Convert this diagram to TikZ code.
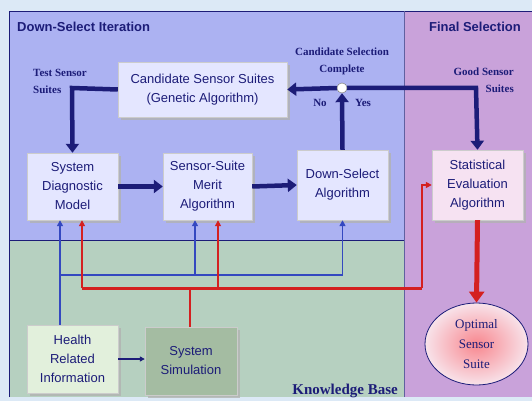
\documentclass[tikz,border=0pt]{standalone}
\usepackage{fontspec}
\setmainfont{Liberation Serif}
\setsansfont{Liberation Sans}
\usetikzlibrary{arrows.meta,shadows,shapes.geometric,calc}
\definecolor{bgout}{HTML}{DCE9F6}
\definecolor{bluereg}{HTML}{ACB2F2}
\definecolor{greenreg}{HTML}{B6D0C0}
\definecolor{purpreg}{HTML}{C9A2DA}
\definecolor{navy}{HTML}{1C1C78}
\definecolor{boxblue}{HTML}{E4E6FF}
\definecolor{boxpink}{HTML}{F6E2F2}
\definecolor{boxgreen}{HTML}{E2F0DC}
\definecolor{simgreen}{HTML}{A4BCA2}
\definecolor{thinblue}{HTML}{3448C0}
\definecolor{redl}{HTML}{D42020}
\definecolor{ellpink}{HTML}{F4D0DC}
\tikzset{
  box/.style={draw=gray!40, fill=boxblue, font=\sffamily\fontsize{13}{19}\selectfont,
    text=navy, align=center, inner sep=0pt,
    drop shadow={shadow xshift=3pt, shadow yshift=-3pt, fill=gray!60, opacity=0.8}},
  lbl/.style={font=\rmfamily\bfseries\fontsize{11}{17}\selectfont, text=navy, inner sep=0pt},
  thickarr/.style={draw=navy, line width=4.5pt, -{Triangle[length=9pt,width=13pt]}},
  bluearr/.style={draw=thinblue, line width=1.5pt, -{Triangle[length=6pt,width=6pt]}},
  blueline/.style={draw=thinblue, line width=1.5pt},
  redarr/.style={draw=redl, line width=1.5pt, -{Triangle[length=6pt,width=6pt]}},
  redline/.style={draw=redl, line width=3pt},
}
\begin{document}
\begin{tikzpicture}[x=1pt,y=-1pt]
\useasboundingbox (0,0) rectangle (532,401);
\fill[bgout] (0,0) rectangle (532,401);
% regions
\fill[bluereg] (9,11) rectangle (404,240);
\fill[greenreg] (9,240) rectangle (404,397);
\fill[purpreg] (404,11) rectangle (532,397);
\draw[navy, line width=0.8pt] (9,397) -- (9,11) -- (532,11);
\draw[navy, line width=0.8pt] (9,240) -- (404,240);
\draw[navy!70, line width=0.8pt] (404,11) -- (404,397);
% region titles
\node[font=\sffamily\bfseries\fontsize{13}{15}\selectfont, text=navy, anchor=west, inner sep=0pt] (t1) at (17,27) {Down-Select Iteration};
\node[font=\sffamily\bfseries\fontsize{13}{15}\selectfont, text=navy, anchor=east, inner sep=0pt] (t2) at (521,27) {Final Selection};
\node[font=\rmfamily\bfseries\fontsize{15}{17}\selectfont, text=navy, anchor=east, inner sep=0pt] (t3) at (398,391) {Knowledge Base};
% nodes
\node[box, minimum width=169pt, minimum height=55pt] (cand) at (202.5,89.5) {Candidate Sensor Suites\\(Genetic Algorithm)};
\node[box, minimum width=91pt, minimum height=67pt] (diag) at (72.5,186.5) {System\\Diagnostic\\Model};
\node[box, minimum width=89pt, minimum height=67pt] (merit) at (207.5,186.5) {Sensor-Suite\\Merit\\Algorithm};
\node[box, minimum width=91pt, minimum height=70pt] (down) at (342.5,185) {Down-Select\\Algorithm};
\node[box, fill=boxpink, minimum width=91pt, minimum height=70pt] (stat) at (477.5,185) {Statistical\\Evaluation\\Algorithm};
\node[box, fill=boxgreen, minimum width=91pt, minimum height=68pt] (health) at (72.5,359) {Health\\Related\\Information};
\node[box, fill=simgreen, minimum width=92pt, minimum height=68pt] (sim) at (191,361) {System\\Simulation};
\node[ellipse, draw=navy, line width=0.8pt, inner color=red!35!ellpink, outer color=ellpink!60!white,
  minimum width=103pt, minimum height=82pt, align=center, text=navy, inner sep=0pt,
  font=\rmfamily\fontsize{13}{20}\selectfont] (opt) at (476.5,344) {Optimal\\Sensor\\Suite};
\node[circle, draw=gray, fill=white, minimum size=10pt, inner sep=0pt] (junc) at (342,88) {};
% labels
\node[lbl, anchor=north west, align=left] (l1) at (33,69) {Test Sensor\\Suites};
\node[lbl, align=center] (l2) at (342,61) {Candidate Selection\\Complete};
\node[lbl] (l3) at (320,103) {No};
\node[lbl] (l4) at (363,103) {Yes};
\node[lbl, anchor=north east, align=right] (l5) at (514,68) {Good Sensor\\Suites};
% bus coordinates
\coordinate (tc) at (72,88);
\coordinate (gc) at (476,88);
\coordinate (bB) at (60,275);
\coordinate (bM) at (195,275);
\coordinate (rL) at (82,288);
\coordinate (rM) at (218,288);
\coordinate (rS) at (190,288);
\coordinate (rR) at (422,288);
% thin blue
\draw[bluearr] (health.north -| bB) -- (diag.south -| bB);
\draw[blueline] (bB) -- (bB -| down.south);
\draw[bluearr] (bB -| down.south) -- (down.south);
\draw[bluearr] (bM) -- (merit.south -| bM);
% thin red
\draw[draw=redl, line width=1.5pt] (sim.north -| rS) -- (rS);
\draw[redline] (rL) -- (rR);
\draw[redarr] (rL) -- (diag.south -| rL);
\draw[redarr] (rM) -- (merit.south -| rM);
\draw[redarr] (rR) -- (rR |- stat.west) -- (stat.west);
% thick navy
\draw[thickarr] (cand.west) -- (tc) -- (diag.north);
\draw[thickarr] (diag.east) -- (merit.west);
\draw[thickarr] (merit.east) -- (down.west);
\draw[thickarr] (down.north) -- (junc.south);
\draw[thickarr] (junc.west) -- (cand.east);
\draw[thickarr] (junc.east) -- (gc) -- (stat.north);
\node[circle, draw=gray, fill=white, minimum size=10pt, inner sep=0pt] at (junc) {};
% red thick
\draw[draw=redl, line width=5pt, -{Triangle[length=11pt,width=15pt]}] (stat.south) -- (opt.north);
% health to sim
\draw[draw=navy, line width=1.2pt, -{Triangle[length=5pt,width=5pt]}] (health.east) -- (health.east -| sim.west);
\end{tikzpicture}
\end{document}
